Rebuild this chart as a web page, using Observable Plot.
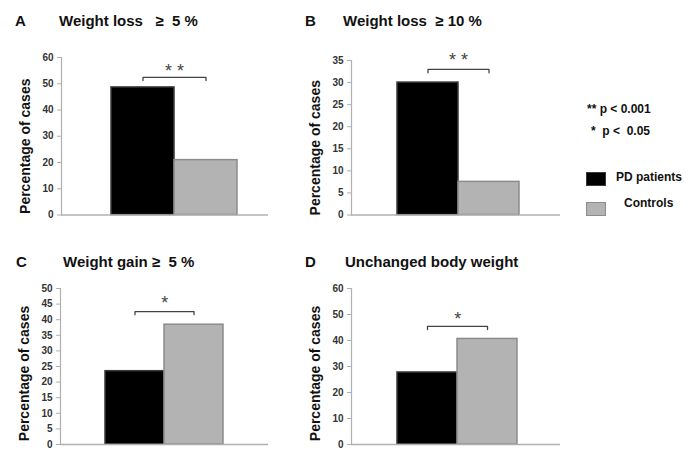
<!DOCTYPE html>
<html>
<head>
<meta charset="utf-8">
<script src="https://cdn.jsdelivr.net/npm/d3@7"></script>
<script src="https://cdn.jsdelivr.net/npm/@observablehq/plot@0.6"></script>
<style>
  body { margin: 0; background: #fff; }
  #chart { position: relative; width: 694px; height: 464px; font-family: "Liberation Sans", Arial, sans-serif; color: #111; overflow: hidden; }
  .panel { position: absolute; }
  .panel svg { overflow: visible; }
  .lbl { position: absolute; font-weight: bold; white-space: pre; line-height: 15px; }
  .swatch { position: absolute; width: 20px; height: 14px; box-sizing: border-box; }
</style>
</head>
<body>
<div id="chart"></div>
<script>
// ---- data ----
const groups = ["PD patients", "Controls"];
const panelLetters = ["A", "B", "C", "D"];
const panelTitles = ["Weight loss   \u2265  5 %", "Weight loss  \u2265 10 %", "Weight gain \u2265  5 %", "Unchanged body weight"];
const pdValues = [48.6, 30.0, 23.5, 27.7];
const controlValues = [20.9, 7.5, 38.4, 40.6];
const yMax = [60, 35, 50, 60];
const yStep = [10, 5, 5, 10];
const significance = ["* *", "* *", "*", "*"];
const bracketLevel = [52.4, 33.0, 42.6, 45.4];
const bracketDrop = [1.2, 0.8, 1.0, 1.2];
const starLevel = [56.6, 36.2, 47.0, 50.0];
const yLabel = "Percentage of cases";
const pLegend = ["** p < 0.001", "*  p <  0.05"];
const fills = ["#000000", "#b3b3b3"];
const strokes = ["#3a3a3a", "#8c8c8c"];

// ---- layout (page pixels) ----
const layout = [
  {L: 0,   T: 0,   W: 290, H: 230, mL: 61, mT: 57, mB: 15.5, mR: 22, bar: [111, 237], yTitleDy: 10, letterX: 15, titleX: 59, base: 26},
  {L: 290, T: 0,   W: 290, H: 230, mL: 61, mT: 60, mB: 15.5, mR: 20, bar: [107, 229], yTitleDy: 10, letterX: 305, titleX: 343, base: 26},
  {L: 0,   T: 232, W: 290, H: 232, mL: 60, mT: 56, mB: 20,   mR: 22, bar: [104, 223], yTitleDy: 7,  letterX: 16, titleX: 63, base: 267},
  {L: 290, T: 232, W: 290, H: 232, mL: 61, mT: 56, mB: 20,   mR: 20, bar: [106, 227], yTitleDy: 7,  letterX: 305, titleX: 345, base: 267}
];

const chart = document.getElementById("chart");
const axisGray = "#b0b0b0";

function addLabel(text, x, baseline, size, extra = "") {
  const d = document.createElement("div");
  d.className = "lbl";
  d.textContent = text;
  d.style.left = x + "px";
  d.style.top = (baseline - 0.905 * size - (15 - 1.117 * size) / 2) + "px";
  d.style.fontSize = size + "px";
  d.style.cssText += extra;
  chart.appendChild(d);
}

panelLetters.forEach((letter, i) => {
  const g = layout[i];
  const bars = groups.map((grp, j) => ({group: grp, value: j === 0 ? pdValues[i] : controlValues[i]}));
  const lv = bracketLevel[i], dr = bracketDrop[i];
  const bracket = [
    {group: groups[0], v: lv - dr}, {group: groups[0], v: lv},
    {group: groups[1], v: lv}, {group: groups[1], v: lv - dr}
  ];
  const halfBand = (g.bar[1] - g.bar[0]) / 4;
  const plot = Plot.plot({
    width: g.W, height: g.H,
    marginLeft: g.mL, marginTop: g.mT, marginBottom: g.mB, marginRight: g.mR,
    style: {background: "transparent", fontFamily: "'Liberation Sans', Arial, sans-serif"},
    x: {type: "band", domain: groups, range: g.bar, padding: 0, axis: null},
    y: {domain: [0, yMax[i]], axis: null},
    color: {domain: groups, range: fills},
    marks: [
      Plot.frame({anchor: "left", stroke: axisGray, strokeWidth: 1.2}),
      Plot.axisY({ticks: d3.range(0, yMax[i] + yStep[i] / 2, yStep[i]), tickSize: 4, tickPadding: 4,
        stroke: axisGray, fill: "#333", fontSize: 10, fontWeight: "bold", label: null, tickFormat: d3.format("d")}),
      Plot.barY(bars, {x: "group", y: "value", fill: "group", stroke: d => strokes[groups.indexOf(d.group)], strokeWidth: 1.5, inset: 0}),
      Plot.ruleY([0], {stroke: axisGray, strokeWidth: 1.5}),
      Plot.line(bracket, {x: "group", y: "v", stroke: "#444", strokeWidth: 1.3}),
      Plot.text([significance[i]], {x: () => groups[0], y: () => starLevel[i], dx: halfBand, dy: 5,
        fontSize: 18, fill: "#444", textAnchor: "middle", lineAnchor: "middle"}),
      Plot.text([yLabel], {frameAnchor: "left", textAnchor: "middle", lineAnchor: "middle", rotate: -90, dx: -36, dy: g.yTitleDy,
        fontSize: 14, fontWeight: "bold", fill: "#111"})
    ]
  });
  plot.classList.add("panel");
  plot.style.left = g.L + "px";
  plot.style.top = g.T + "px";
  chart.appendChild(plot);
  addLabel(letter, g.letterX, g.base, 15);
  addLabel(panelTitles[i], g.titleX, g.base, 15);
});

// ---- legend ----
addLabel(pLegend[0], 587, 114, 12, "color:#111;");
addLabel(pLegend[1], 591, 136, 12, "color:#111;");
groups.forEach((grp, j) => {
  const sw = document.createElement("div");
  sw.className = "swatch";
  sw.style.left = "586px";
  sw.style.top = (j === 0 ? 172 : 202) + "px";
  sw.style.background = fills[j];
  sw.style.border = "1.5px solid " + strokes[j];
  chart.appendChild(sw);
  addLabel(grp, j === 0 ? 616 : 624, j === 0 ? 182 : 208, 12);
});
</script>
</body>
</html>
